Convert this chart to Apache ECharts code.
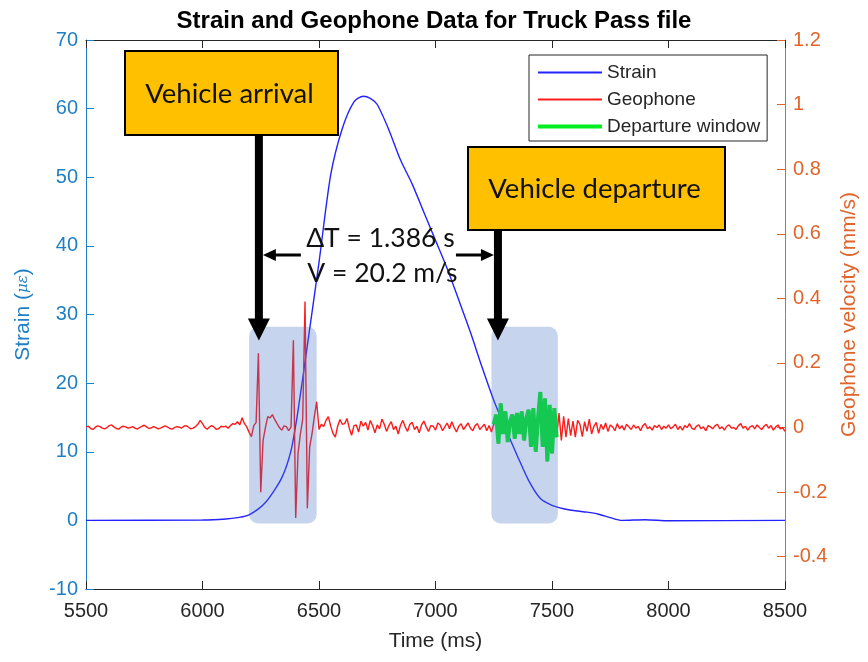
<!DOCTYPE html>
<html>
<head>
<meta charset="utf-8">
<title>Strain and Geophone Data for Truck Pass file</title>
<script src="https://cdn.jsdelivr.net/npm/echarts@6.0.0/dist/echarts.min.js"></script>
<style>
  html, body { margin: 0; padding: 0; background: #fff; }
  #chart { width: 868px; height: 662px; }
</style>
</head>
<body>
<div id="chart"></div>
<script>
'use strict';

// strain (left axis, micro-strain)
var strainTime = [5500, 6000, 6100, 6150, 6200, 6270, 6340, 6380, 6410, 6450, 6500, 6550, 6600,
    6650, 6690, 6720, 6750, 6800, 6850, 6900, 6950, 7000, 7050, 7100, 7150, 7200, 7250, 7300,
    7350, 7400, 7450, 7500, 7550, 7600, 7650, 7700, 7750, 7800, 7900, 8000, 8500];
var strainValue = [0, 0.05, 0.2, 0.4, 0.8, 2.6, 6.2, 10.2, 16, 25.5, 37.6, 50.3, 57.1,
    61, 61.8, 61.5, 60.6, 56.9, 52.5, 49, 44.9, 40.8, 36.7, 32.1, 27.4, 22.3, 17.5, 13.4,
    9.5, 5.8, 3.2, 2.2, 1.7, 1.4, 1.2, 0.9, 0.4, 0, 0.1, -0.05, 0];

// geophone velocity (right axis, mm/s), one sample every 10 ms from 5500 ms
var geoStart = 5500;
var geoStep = 10;
var geoValue = [
    0.002, 0.004, -0.003, -0.006, 0.001, 0.005, 0.003, -0.002, -0.004, 0.000, 0.006, 0.008, 0.002, -0.003, -0.005, 0.001, 0.004, 0.002, -0.002, 0.000,
    0.003, -0.002, -0.005, 0.000, 0.004, 0.007, 0.002, -0.003, -0.001, 0.003, 0.000, -0.004, -0.002, 0.002, 0.005, 0.001, -0.003, -0.005, 0.000, 0.003,
    0.001, -0.002, 0.004, 0.006, 0.001, -0.004, -0.002, 0.003, 0.010, 0.022, 0.012, 0.000, -0.005, 0.002, 0.006, 0.001, -0.006, -0.003, 0.004, 0.002,
    0.004, -0.002, 0.006, 0.012, 0.010, 0.018, 0.008, 0.030, 0.012, 0.002, -0.015, -0.028, 0.006, 0.015, 0.230, -0.200, -0.040, 0.000, 0.034, 0.030,
    0.040, 0.025, 0.012, 0.000, -0.008, 0.005, 0.003, -0.010, 0.002, 0.270, -0.280, -0.080, -0.020, 0.025, 0.390, -0.250, -0.060, -0.020, 0.034, 0.080,
    -0.006, 0.010, 0.003, 0.022, 0.034, 0.005, -0.018, -0.030, 0.004, 0.025, 0.010, 0.012, 0.028, -0.002, -0.024, 0.006, 0.008, -0.014, 0.020, 0.004,
    0.016, -0.008, 0.022, 0.006, -0.016, 0.008, -0.004, 0.026, 0.010, -0.012, 0.006, 0.018, -0.006, 0.004, -0.020, 0.008, 0.022, 0.002, -0.012, 0.010,
    0.016, -0.006, 0.004, -0.016, 0.008, 0.020, 0.002, -0.012, 0.006, 0.004, -0.008, 0.014, 0.008, -0.010, 0.002, 0.014, -0.004, 0.018, 0.000, -0.014,
    0.004, 0.012, -0.006, 0.004, 0.014, -0.002, -0.010, 0.006, 0.012, -0.006, 0.002, 0.010, -0.010, 0.006, -0.014, 0.010, 0.040, -0.050, 0.075, -0.020,
    0.050, -0.045, 0.020, 0.040, -0.035, 0.045, -0.020, 0.050, -0.040, 0.030, 0.055, -0.060, 0.060, -0.075, 0.030, 0.110, -0.060, 0.090, -0.105, 0.070,
    -0.080, 0.060, -0.030, 0.045, -0.040, 0.035, -0.030, 0.028, -0.025, 0.020, -0.030, 0.022, 0.010, -0.028, 0.018, -0.012, 0.026, -0.020, 0.004, 0.016,
    -0.018, 0.010, -0.006, 0.014, -0.012, 0.008, 0.002, -0.010, 0.012, -0.004, 0.006, -0.008, 0.010, 0.002, -0.006, 0.008, -0.002, 0.004, -0.010, 0.006,
    0.012, -0.004, 0.002, -0.008, 0.006, 0.000, 0.008, -0.006, 0.004, -0.002, 0.008, -0.004, 0.002, 0.010, -0.006, 0.004, -0.008, 0.006, 0.000, 0.012,
    -0.002, -0.006, 0.004, 0.008, -0.004, 0.002, -0.010, 0.006, 0.002, -0.004, 0.006, 0.010, -0.004, 0.002, -0.008, 0.004, 0.008, -0.002, 0.000, -0.006,
    0.006, 0.012, -0.002, 0.004, -0.008, 0.002, 0.006, -0.004, 0.008, 0.000, -0.006, 0.004, 0.010, -0.002, 0.006, -0.008, 0.002, 0.008, -0.004, 0.000,
    -0.012
];

// departure window (green part of the geophone trace), ms
var departureWindow = [7250, 7520];

// shaded windows: start / end in ms, top / bottom in strain units
var windowStart = [6200, 7240];
var windowEnd = [6490, 7525];
var windowTop = 28.2;
var windowBottom = -0.45;

// callouts
var arrowTime = [6242, 7268];
var arrowTipStrain = 26.2;
var calloutText = ['Vehicle arrival', 'Vehicle departure'];
var deltaText = ['\u0394T = 1.386 s', 'V = 20.2 m/s'];

var xTicks = [5500, 8500, 500];
var leftTicks = [-10, 70, 10];
var rightTicks = [-0.4, -0.2, 0, 0.2, 0.4, 0.6, 0.8, 1, 1.2];

var blueAxis = '#1f7fc4';
var orangeAxis = '#e0652c';
var darkAxis = '#262626';
var sans = '"Liberation Sans", Arial, sans-serif';
var callFont = 'Lato, "Open Sans", sans-serif';

var strainData = strainTime.map(function (t, i) { return [t, strainValue[i]]; });
var geoData = geoValue.map(function (v, i) { return [geoStart + i * geoStep, v]; });
var greenData = geoData.filter(function (d) {
    return d[0] >= departureWindow[0] && d[0] <= departureWindow[1];
});
var windowData = windowStart.map(function (s, i) {
    return [s, windowEnd[i], windowTop, windowBottom];
});

var chart = echarts.init(document.getElementById('chart'), null, {renderer: 'canvas'});

var option = {
    animation: false,
    backgroundColor: '#fff',
    title: {
        text: 'Strain and Geophone Data for Truck Pass file',
        left: 'center', top: 4,
        textStyle: {fontFamily: sans, fontWeight: 'bold', fontSize: 24, color: '#000'}
    },
    grid: {left: 86, right: 83, top: 40, bottom: 73},
    legend: {
        data: ['Strain', 'Geophone', {name: 'Departure window', lineStyle: {width: 4}}],
        orient: 'vertical', left: 529, top: 55,
        itemWidth: 64, itemHeight: 12, itemGap: 8,
        padding: [8, 7, 5, 7],
        itemStyle: {opacity: 0},
        borderColor: darkAxis, borderWidth: 1, backgroundColor: '#fff',
        textStyle: {fontFamily: sans, fontSize: 19, color: darkAxis}
    },
    xAxis: [{
        type: 'value', min: xTicks[0], max: xTicks[1], interval: xTicks[2],
        axisLine: {onZero: false, lineStyle: {color: darkAxis}},
        axisTick: {inside: true, length: 8, lineStyle: {color: darkAxis}},
        axisLabel: {fontFamily: sans, fontSize: 20, color: darkAxis, margin: 12,
            formatter: function (v) { return String(v); }},
        splitLine: {show: false},
        name: 'Time (ms)', nameLocation: 'middle', nameGap: 42,
        nameTextStyle: {fontFamily: sans, fontSize: 21, color: darkAxis}
    }, {
        type: 'value', position: 'top', min: xTicks[0], max: xTicks[1], interval: xTicks[2],
        axisLine: {onZero: false, lineStyle: {color: darkAxis}},
        axisTick: {inside: true, length: 8, lineStyle: {color: darkAxis}},
        axisLabel: {show: false},
        splitLine: {show: false}
    }],
    yAxis: [{
        type: 'value', min: leftTicks[0], max: leftTicks[1], interval: leftTicks[2],
        axisLine: {show: true, onZero: false, lineStyle: {color: blueAxis}},
        axisTick: {show: true, inside: true, length: 8, lineStyle: {color: blueAxis}},
        axisLabel: {fontFamily: sans, fontSize: 20, color: blueAxis, margin: 8},
        splitLine: {show: false},
        name: '{a|Strain (}{b|\u03bc\u03b5}{a|)}', nameLocation: 'middle', nameGap: 52,
        nameTextStyle: {
            rich: {
                a: {fontFamily: sans, fontSize: 21, color: blueAxis},
                b: {fontFamily: '"DejaVu Serif", serif', fontStyle: 'italic', fontSize: 15, color: blueAxis}
            }
        }
    }, {
        type: 'value', position: 'right', min: -0.5, max: 1.2,
        axisLine: {show: true, onZero: false, lineStyle: {color: orangeAxis}},
        axisTick: {show: true, inside: true, length: 8, customValues: rightTicks,
            lineStyle: {color: orangeAxis}},
        axisLabel: {customValues: rightTicks, fontFamily: sans, fontSize: 20,
            color: orangeAxis, margin: 8},
        splitLine: {show: false},
        name: 'Geophone velocity (mm/s)', nameLocation: 'middle', nameGap: 52, nameRotate: 90,
        nameTextStyle: {fontFamily: sans, fontSize: 21, color: orangeAxis}
    }],
    series: [{
        name: 'Strain', type: 'line', xAxisIndex: 0, yAxisIndex: 0,
        data: strainData, symbol: 'none', smooth: 0.25,
        lineStyle: {color: '#2323ff', width: 1.4}, itemStyle: {color: '#2323ff'}, z: 2
    }, {
        name: 'Geophone', type: 'line', xAxisIndex: 0, yAxisIndex: 1,
        data: geoData, symbol: 'none',
        lineStyle: {color: '#ff1a1a', width: 1.4}, itemStyle: {color: '#ff1a1a'}, z: 3
    }, {
        name: 'Departure window', type: 'line', xAxisIndex: 0, yAxisIndex: 1,
        data: greenData, symbol: 'none',
        lineStyle: {color: '#00ee22', width: 4}, itemStyle: {color: '#00ee22'}, z: 4
    }, {
        name: 'windows', type: 'custom', xAxisIndex: 0, yAxisIndex: 0,
        data: windowData, encode: {x: [0, 1], y: [2, 3]}, silent: true, z: 10,
        renderItem: function (params, api) {
            var p0 = api.coord([api.value(0), api.value(2)]);
            var p1 = api.coord([api.value(1), api.value(3)]);
            return {
                type: 'rect',
                shape: {x: p0[0], y: p0[1], width: p1[0] - p0[0], height: p1[1] - p0[1], r: 9},
                style: {fill: 'rgba(68,114,196,0.3)'}
            };
        }
    }]
};

chart.setOption(option);

// callout boxes and arrows, anchored on the axis scales
var a1 = chart.convertToPixel({xAxisIndex: 0, yAxisIndex: 0}, [arrowTime[0], arrowTipStrain]);
var a2 = chart.convertToPixel({xAxisIndex: 0, yAxisIndex: 0}, [arrowTime[1], arrowTipStrain]);
var box1 = {x: 125, y: 51, w: 213, h: 84};
var box2 = {x: 468, y: 147, w: 257, h: 83};
var shaftW = 8, headW = 22, headH = 22, midY = 255;

function downArrow(x, y0, tipY) {
    return [{
        type: 'rect', z: 100,
        shape: {x: x - shaftW / 2, y: y0, width: shaftW, height: tipY - headH - y0 + 1},
        style: {fill: '#000'}
    }, {
        type: 'polygon', z: 100,
        shape: {points: [[x - headW / 2, tipY - headH], [x + headW / 2, tipY - headH], [x, tipY]]},
        style: {fill: '#000'}
    }];
}

function calloutBox(b, text) {
    return [{
        type: 'rect', z: 100,
        shape: {x: b.x, y: b.y, width: b.w, height: b.h},
        style: {fill: '#ffc000', stroke: '#000', lineWidth: 2}
    }, {
        type: 'text', z: 101, x: b.x + b.w / 2 - 2, y: b.y + b.h / 2 + 1,
        style: {text: text, fontFamily: callFont, fontSize: 27.5, fill: '#111',
            align: 'center', verticalAlign: 'middle'}
    }];
}

var lx = a1[0] + shaftW / 2, rx = a2[0] - shaftW / 2;
var elements = [].concat(
    downArrow(a1[0], box1.y + box1.h, a1[1]),
    downArrow(a2[0], box2.y + box2.h, a2[1]),
    calloutBox(box1, calloutText[0]),
    calloutBox(box2, calloutText[1]),
    [{
        type: 'line', z: 100, shape: {x1: lx + 10, y1: midY, x2: lx + 38, y2: midY},
        style: {stroke: '#000', lineWidth: 3}
    }, {
        type: 'polygon', z: 100,
        shape: {points: [[lx, midY], [lx + 13, midY - 6], [lx + 13, midY + 6]]},
        style: {fill: '#000'}
    }, {
        type: 'line', z: 100, shape: {x1: rx - 38, y1: midY, x2: rx - 10, y2: midY},
        style: {stroke: '#000', lineWidth: 3}
    }, {
        type: 'polygon', z: 100,
        shape: {points: [[rx, midY], [rx - 13, midY - 6], [rx - 13, midY + 6]]},
        style: {fill: '#000'}
    }, {
        type: 'text', z: 101, x: (lx + rx) / 2 + 2, y: 238,
        style: {text: deltaText[0], fontFamily: callFont, fontSize: 26.5, fill: '#111',
            align: 'center', verticalAlign: 'middle'}
    }, {
        type: 'text', z: 101, x: (lx + rx) / 2 + 4, y: 273,
        style: {text: deltaText[1], fontFamily: callFont, fontSize: 26.5, fill: '#111',
            align: 'center', verticalAlign: 'middle'}
    }]
);

chart.setOption({graphic: {elements: elements}});
</script>
</body>
</html>
